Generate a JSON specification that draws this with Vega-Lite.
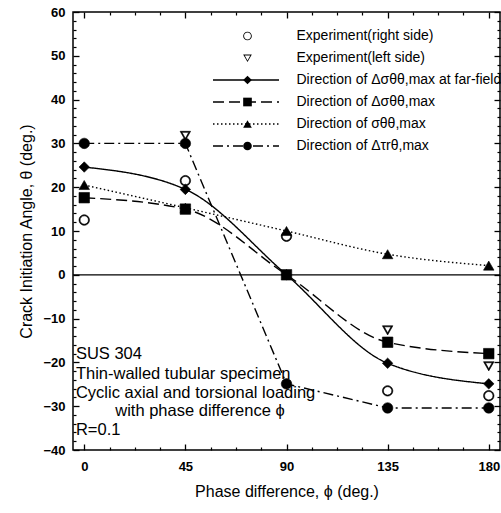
{
  "$schema": "https://vega.github.io/schema/vega-lite/v6.json",
  "width": 427,
  "height": 438,
  "autosize": {"type": "none"},
  "padding": {"left": 73, "top": 12, "right": 1, "bottom": 63},
  "background": "white",
  "config": {
    "view": {"stroke": "black", "strokeWidth": 1.5},
    "axis": {
      "grid": false,
      "labelFont": "Liberation Sans",
      "labelFontSize": 13,
      "labelFontWeight": "bold",
      "labelColor": "black",
      "titleFont": "Liberation Sans",
      "titleFontSize": 16,
      "titleFontWeight": "normal",
      "titleColor": "black",
      "tickColor": "black",
      "domainColor": "black"
    },
    "legend": {
      "labelFont": "Liberation Sans",
      "labelFontSize": 14,
      "labelColor": "black",
      "labelLimit": 320
    }
  },
  "datasets": {
    "points": [
      {"series": "Experiment(right side)", "phi": 0, "theta": 12.5},
      {"series": "Experiment(right side)", "phi": 45, "theta": 21.5},
      {"series": "Experiment(right side)", "phi": 90, "theta": 8.8},
      {"series": "Experiment(right side)", "phi": 135, "theta": -26.5},
      {"series": "Experiment(right side)", "phi": 180, "theta": -27.6},
      {"series": "Experiment(left side)", "phi": 45, "theta": 31.8},
      {"series": "Experiment(left side)", "phi": 135, "theta": -12.6},
      {"series": "Experiment(left side)", "phi": 180, "theta": -20.8},
      {"series": "Direction of σθθ,max", "phi": 0, "theta": 20.5},
      {"series": "Direction of σθθ,max", "phi": 45, "theta": 15.3},
      {"series": "Direction of σθθ,max", "phi": 90, "theta": 10},
      {"series": "Direction of σθθ,max", "phi": 135, "theta": 4.7},
      {"series": "Direction of σθθ,max", "phi": 180, "theta": 2.1},
      {"series": "Direction of Δσθθ,max at far-field", "phi": 0, "theta": 24.6},
      {"series": "Direction of Δσθθ,max at far-field", "phi": 45, "theta": 19.5},
      {"series": "Direction of Δσθθ,max at far-field", "phi": 90, "theta": 0},
      {"series": "Direction of Δσθθ,max at far-field", "phi": 135, "theta": -20.2},
      {"series": "Direction of Δσθθ,max at far-field", "phi": 180, "theta": -24.9},
      {"series": "Direction of Δσθθ,max", "phi": 0, "theta": 17.6},
      {"series": "Direction of Δσθθ,max", "phi": 45, "theta": 15},
      {"series": "Direction of Δσθθ,max", "phi": 90, "theta": 0},
      {"series": "Direction of Δσθθ,max", "phi": 135, "theta": -15.4},
      {"series": "Direction of Δσθθ,max", "phi": 180, "theta": -18},
      {"series": "Direction of Δτrθ,max", "phi": 0, "theta": 30},
      {"series": "Direction of Δτrθ,max", "phi": 45, "theta": 30},
      {"series": "Direction of Δτrθ,max", "phi": 90, "theta": -24.9},
      {"series": "Direction of Δτrθ,max", "phi": 135, "theta": -30.4},
      {"series": "Direction of Δτrθ,max", "phi": 180, "theta": -30.4}
    ],
    "curves": [
      {"curve": "Direction of Δσθθ,max at far-field", "phi": 0, "theta": 24.6},
      {"curve": "Direction of Δσθθ,max at far-field", "phi": 45, "theta": 19.5},
      {"curve": "Direction of Δσθθ,max at far-field", "phi": 90, "theta": 0},
      {"curve": "Direction of Δσθθ,max at far-field", "phi": 135, "theta": -20.2},
      {"curve": "Direction of Δσθθ,max at far-field", "phi": 180, "theta": -24.9},
      {"curve": "Direction of Δσθθ,max", "phi": 0, "theta": 17.6},
      {"curve": "Direction of Δσθθ,max", "phi": 45, "theta": 15},
      {"curve": "Direction of Δσθθ,max", "phi": 90, "theta": 0},
      {"curve": "Direction of Δσθθ,max", "phi": 135, "theta": -15.4},
      {"curve": "Direction of Δσθθ,max", "phi": 180, "theta": -18},
      {"curve": "Direction of σθθ,max", "phi": 0, "theta": 20.5},
      {"curve": "Direction of σθθ,max", "phi": 45, "theta": 15.3},
      {"curve": "Direction of σθθ,max", "phi": 90, "theta": 10},
      {"curve": "Direction of σθθ,max", "phi": 135, "theta": 4.7},
      {"curve": "Direction of σθθ,max", "phi": 180, "theta": 2.1}
    ],
    "tau": [
      {"curve": "Direction of Δτrθ,max", "phi": 0, "theta": 30},
      {"curve": "Direction of Δτrθ,max", "phi": 45, "theta": 30},
      {"curve": "Direction of Δτrθ,max", "phi": 90, "theta": -24.9},
      {"curve": "Direction of Δτrθ,max", "phi": 135, "theta": -30.4},
      {"curve": "Direction of Δτrθ,max", "phi": 180, "theta": -30.4}
    ]
  },
  "layer": [
    {
      "data": {"values": [{"theta": 0}]},
      "mark": {"type": "rule", "color": "black", "strokeWidth": 1.3},
      "encoding": {
        "y": {"field": "theta", "type": "quantitative", "axis": null}
      }
    },
    {
      "data": {"name": "curves"},
      "mark": {"type": "line", "interpolate": "monotone", "color": "black", "strokeWidth": 1.4},
      "encoding": {
        "x": {"field": "phi", "type": "quantitative", "scale": {"domain": [-5, 185], "nice": false, "zero": false},
              "axis": {"orient": "bottom", "values": [0, 45, 90, 135, 180], "tickSize": -6, "tickWidth": 1.3, "labels": false, "domain": false, "title": null}},
        "y": {"field": "theta", "type": "quantitative", "scale": {"domain": [-40, 60], "nice": false, "zero": false},
              "axis": {"orient": "left", "values": [-40, -30, -20, -10, 0, 10, 20, 30, 40, 50, 60], "tickSize": -6, "tickWidth": 1.3, "labels": false, "domain": false, "title": null}},
        "strokeDash": {"field": "curve", "type": "nominal",
          "scale": {"domain": ["Direction of Δσθθ,max at far-field", "Direction of Δσθθ,max", "Direction of σθθ,max", "Direction of Δτrθ,max"],
                    "range": [[1, 0], [11, 5], [1.5, 2.5], [10, 4, 2, 4]]},
          "legend": {"orient": "none", "legendX": 139, "legendY": 57, "title": null, "symbolType": "stroke", "symbolSize": 4356, "symbolStrokeColor": "black", "symbolStrokeWidth": 1.4, "clipHeight": 22, "rowPadding": 0, "padding": 0, "labelExpr": "''"}
        },
        "detail": {"field": "curve"}
      }
    },
    {
      "data": {"name": "tau"},
      "mark": {"type": "line", "interpolate": "linear", "color": "black", "strokeWidth": 1.4},
      "encoding": {
        "x": {"field": "phi", "type": "quantitative",
              "axis": {"orient": "bottom", "values": [11.25, 22.5, 33.75, 56.25, 67.5, 78.75, 101.25, 112.5, 123.75, 146.25, 157.5, 168.75], "tickSize": -3, "tickWidth": 1.2, "labels": false, "domain": false, "title": null}},
        "y": {"field": "theta", "type": "quantitative",
              "axis": {"orient": "left", "values": [-38, -36, -34, -32, -28, -26, -24, -22, -18, -16, -14, -12, -8, -6, -4, -2, 2, 4, 6, 8, 12, 14, 16, 18, 22, 24, 26, 28, 32, 34, 36, 38, 42, 44, 46, 48, 52, 54, 56, 58], "tickSize": -3, "tickWidth": 1.2, "labels": false, "domain": false, "title": null}},
        "strokeDash": {"field": "curve", "type": "nominal",
          "legend": {"orient": "none", "legendX": 139, "legendY": 57, "title": null, "symbolType": "stroke", "symbolSize": 4356, "symbolStrokeColor": "black", "symbolStrokeWidth": 1.4, "clipHeight": 22, "rowPadding": 0, "padding": 0, "labelExpr": "''"}
        }
      }
    },
    {
      "data": {"name": "points"},
      "mark": {"type": "point", "filled": true, "color": "black", "stroke": "black", "strokeWidth": 0.6, "size": 110, "opacity": 1},
      "encoding": {
        "x": {"field": "phi", "type": "quantitative",
              "axis": {"orient": "bottom", "values": [0, 45, 90, 135, 180], "ticks": false, "domain": false, "labelPadding": 10, "title": "Phase difference, ϕ (deg.)", "titlePadding": 10}},
        "y": {"field": "theta", "type": "quantitative",
              "axis": {"orient": "left", "values": [-40, -30, -20, -10, 0, 10, 20, 30, 40, 50, 60], "ticks": false, "domain": false, "labelPadding": 8, "title": "Crack Initiation Angle, θ (deg.)", "titlePadding": 8}},
        "shape": {"field": "series", "type": "nominal",
          "scale": {"domain": ["Experiment(right side)", "Experiment(left side)", "Direction of Δσθθ,max at far-field", "Direction of Δσθθ,max", "Direction of σθθ,max", "Direction of Δτrθ,max"],
                    "range": ["M0,-1A1,1 0 1,1 0,1A1,1 0 1,1 0,-1Z M0,-0.8A0.8,0.8 0 1,0 0,0.8A0.8,0.8 0 1,0 0,-0.8Z",
                              "M-1,-0.8L1,-0.8L0,0.95Z M-0.64,-0.6L0,0.55L0.64,-0.6Z",
                              "diamond", "square", "triangle-up", "circle"]},
          "legend": {"orient": "none", "legendX": 167.5, "legendY": 17, "title": null, "symbolSize": 75, "symbolFillColor": "black", "symbolStrokeColor": "black", "symbolStrokeWidth": 0.6, "rowPadding": 8, "padding": 0, "labelOffset": 42}
        }
      }
    },
    {
      "data": {"values": [{"note": "SUS 304\nThin-walled tubular specimen\nCyclic axial and torsional loading"}]},
      "mark": {"type": "text", "font": "Liberation Sans", "fontSize": 16.5, "align": "left", "baseline": "top", "lineHeight": 19.5, "color": "black", "lineBreak": "\n"},
      "encoding": {
        "x": {"datum": -3.7, "type": "quantitative",
              "axis": {"orient": "top", "values": [0, 45, 90, 135, 180], "tickSize": -6, "tickWidth": 1.3, "labels": false, "domain": false, "title": null}},
        "y": {"datum": -16.3, "type": "quantitative",
              "axis": {"orient": "right", "values": [-40, -30, -20, -10, 0, 10, 20, 30, 40, 50, 60], "tickSize": -6, "tickWidth": 1.3, "labels": false, "domain": false, "title": null}},
        "text": {"field": "note"}
      }
    },
    {
      "data": {"values": [{"note": "with phase difference ϕ"}]},
      "mark": {"type": "text", "font": "Liberation Sans", "fontSize": 16.5, "align": "center", "baseline": "middle", "color": "black"},
      "encoding": {
        "x": {"datum": 51.5, "type": "quantitative",
              "axis": {"orient": "top", "values": [11.25, 22.5, 33.75, 56.25, 67.5, 78.75, 101.25, 112.5, 123.75, 146.25, 157.5, 168.75], "tickSize": -3, "tickWidth": 1.2, "labels": false, "domain": false, "title": null}},
        "y": {"datum": -31.1, "type": "quantitative",
              "axis": {"orient": "right", "values": [-38, -36, -34, -32, -28, -26, -24, -22, -18, -16, -14, -12, -8, -6, -4, -2, 2, 4, 6, 8, 12, 14, 16, 18, 22, 24, 26, 28, 32, 34, 36, 38, 42, 44, 46, 48, 52, 54, 56, 58], "tickSize": -3, "tickWidth": 1.2, "labels": false, "domain": false, "title": null}},
        "text": {"field": "note"}
      }
    },
    {
      "data": {"values": [{"note": "R=0.1"}]},
      "mark": {"type": "text", "font": "Liberation Sans", "fontSize": 16.5, "align": "left", "baseline": "middle", "color": "black"},
      "encoding": {
        "x": {"datum": -3.7, "type": "quantitative", "axis": null},
        "y": {"datum": -35.4, "type": "quantitative", "axis": null},
        "text": {"field": "note"}
      }
    }
  ],
  "resolve": {"axis": {"x": "independent", "y": "independent"}}
}
